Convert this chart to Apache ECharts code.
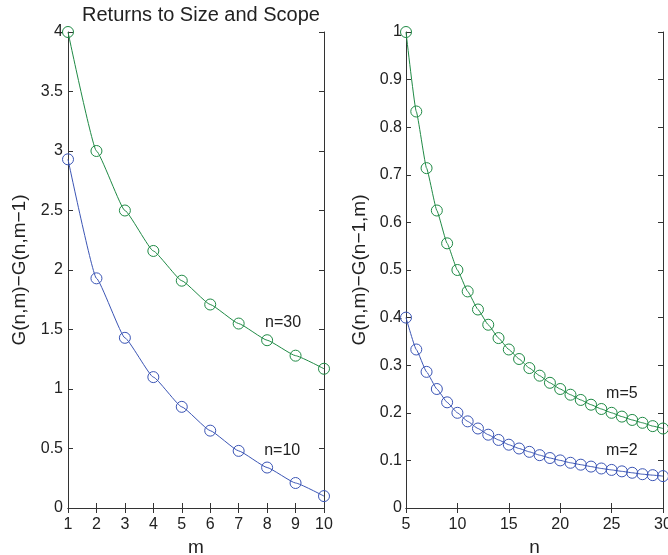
<!DOCTYPE html>
<html>
<head>
<meta charset="utf-8">
<script src="https://cdn.jsdelivr.net/npm/echarts@6/dist/echarts.min.js"></script>
<style>
  html, body { margin: 0; padding: 0; background: #fff; }
  #main { width: 668px; height: 555px; }
</style>
</head>
<body>
<div id="main"></div>
<script>
// left panel: returns to size, x = m
var mValues = [1, 2, 3, 4, 5, 6, 7, 8, 9, 10];
var n30 = [4.0, 3.0, 2.5, 2.16, 1.91, 1.71, 1.55, 1.41, 1.28, 1.17];
var n10 = [2.93, 1.93, 1.43, 1.10, 0.85, 0.65, 0.48, 0.34, 0.21, 0.10];

// right panel: returns to scope, x = n
var nValues = [5, 6, 7, 8, 9, 10, 11, 12, 13, 14, 15, 16, 17, 18, 19, 20, 21, 22, 23, 24, 25, 26, 27, 28, 29, 30];
var m5 = [1.0, 0.833, 0.714, 0.625, 0.556, 0.5, 0.455, 0.417, 0.385, 0.357, 0.333, 0.313, 0.294, 0.278, 0.263, 0.25,
          0.238, 0.227, 0.217, 0.208, 0.2, 0.192, 0.185, 0.179, 0.172, 0.167];
var m2 = [0.4, 0.333, 0.286, 0.25, 0.222, 0.2, 0.182, 0.167, 0.154, 0.143, 0.133, 0.125, 0.118, 0.111, 0.105, 0.1,
          0.095, 0.091, 0.087, 0.083, 0.08, 0.077, 0.074, 0.071, 0.069, 0.067];

var green = "#1f8a45";
var blue = "#3b55b5";
var font = "Liberation Sans, Arial, sans-serif";

function pairs(xs, ys) {
  return xs.map(function (x, i) { return [x, ys[i]]; });
}

function mainAxis(pos, grid, min, max, interval, name, gap, margin) {
  return {
    type: "value",
    gridIndex: grid,
    position: pos,
    min: min,
    max: max,
    interval: interval,
    name: name,
    nameLocation: "middle",
    nameGap: gap,
    nameTextStyle: { fontFamily: font, fontSize: 19, color: "#222" },
    axisLine: { show: true, lineStyle: { color: "#333", width: 1 } },
    axisTick: { show: true, inside: true, length: 5, lineStyle: { color: "#333" } },
    axisLabel: { fontFamily: font, fontSize: 16, color: "#222", margin: margin },
    splitLine: { show: false }
  };
}

function boxAxis(pos, grid, min, max, interval) {
  return {
    type: "value",
    gridIndex: grid,
    position: pos,
    min: min,
    max: max,
    interval: interval,
    axisLine: { show: true, lineStyle: { color: "#333", width: 1 } },
    axisTick: { show: true, inside: true, length: 5, lineStyle: { color: "#333" } },
    axisLabel: { show: false },
    splitLine: { show: false }
  };
}

function curve(xi, yi, data, color, tag) {
  return {
    type: "line",
    xAxisIndex: xi,
    yAxisIndex: yi,
    data: data,
    smooth: 0.12,
    smoothMonotone: "x",
    clip: false,
    symbol: "circle",
    symbolSize: 11,
    lineStyle: { color: color, width: 1 },
    itemStyle: { color: "rgba(0,0,0,0)", borderColor: color, borderWidth: 1 },
    markPoint: {
      symbol: "circle",
      symbolSize: 0,
      label: { show: true, formatter: tag.text, fontFamily: font, fontSize: 16, color: "#222" },
      data: [{ coord: tag.at }]
    }
  };
}

var myChart = echarts.init(document.getElementById("main"));

var option = {
  animation: false,
  backgroundColor: "#fff",
  title: {
    text: "Returns to Size and Scope",
    left: 196,
    top: 0,
    textAlign: "center",
    textStyle: { fontFamily: font, fontSize: 20, fontWeight: "normal", color: "#222" }
  },
  grid: [
    { left: 68, top: 32, width: 256, height: 476, containLabel: false, outerBoundsMode: "none" },
    { left: 406, top: 32, width: 257, height: 476, containLabel: false, outerBoundsMode: "none" }
  ],
  xAxis: [
    mainAxis("bottom", 0, 1, 10, 1, "m", 28, 9),
    boxAxis("top", 0, 1, 10, 1),
    mainAxis("bottom", 1, 5, 30, 5, "n", 28, 9),
    boxAxis("top", 1, 5, 30, 5)
  ],
  yAxis: [
    mainAxis("left", 0, 0, 4, 0.5, "G(n,m)\u2212G(n,m\u22121)", 39, 5),
    boxAxis("right", 0, 0, 4, 0.5),
    mainAxis("left", 1, 0, 1, 0.1, "G(n,m)\u2212G(n\u22121,m)", 37, 4),
    boxAxis("right", 1, 0, 1, 0.1)
  ],
  series: [
    curve(0, 0, pairs(mValues, n30), green, { text: "n=30", at: [8.56, 1.555] }),
    curve(0, 0, pairs(mValues, n10), blue, { text: "n=10", at: [8.53, 0.479] }),
    curve(2, 2, pairs(nValues, m5), green, { text: "m=5", at: [26.0, 0.24] }),
    curve(2, 2, pairs(nValues, m2), blue, { text: "m=2", at: [26.0, 0.12] })
  ]
};

option && myChart.setOption(option);
</script>
</body>
</html>
